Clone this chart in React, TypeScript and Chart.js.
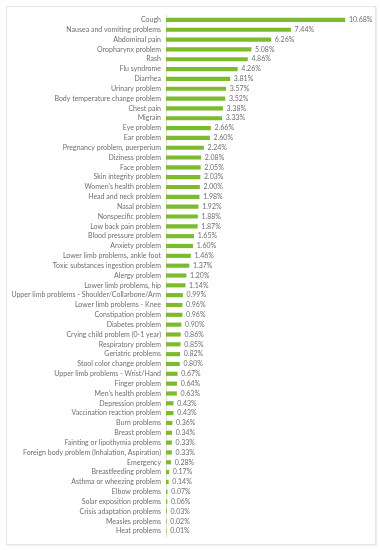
import React, { useEffect, useRef } from "react";
import { Chart, registerables } from "chart.js";

Chart.register(...registerables);

const categories: string[] = [
  "Cough",
  "Nausea and vomiting problems",
  "Abdominal pain",
  "Oropharynx problem",
  "Rash",
  "Flu syndrome",
  "Diarrhea",
  "Urinary problem",
  "Body temperature change problem",
  "Chest pain",
  "Migrain",
  "Eye problem",
  "Ear problem",
  "Pregnancy problem, puerperium",
  "Diziness problem",
  "Face problem",
  "Skin integrity problem",
  "Women's health problem",
  "Head and neck problem",
  "Nasal problem",
  "Nonspecific problem",
  "Low back pain problem",
  "Blood pressure problem",
  "Anxiety problem",
  "Lower limb problems, ankle foot",
  "Toxic substances ingestion problem",
  "Alergy problem",
  "Lower limb problems, hip",
  "Upper limb problems - Shoulder/Collarbone/Arm",
  "Lower limb problems - Knee",
  "Constipation problem",
  "Diabetes problem",
  "Crying child problem (0-1 year)",
  "Respiratory problem",
  "Geriatric problems",
  "Stool color change problem",
  "Upper limb problems - Wrist/Hand",
  "Finger problem",
  "Men's health problem",
  "Depression problem",
  "Vaccination reaction problem",
  "Burn problems",
  "Breast problem",
  "Fainting or lipothymia problems",
  "Foreign body problem (Inhalation, Aspiration)",
  "Emergency",
  "Breastfeeding problem",
  "Asthma or wheezing problem",
  "Elbow problems",
  "Solar exposition problems",
  "Crisis adaptation problems",
  "Measles problems",
  "Heat problems",
];

const percentages: number[] = [
  10.68, 7.44, 6.26, 5.08, 4.86, 4.26, 3.81, 3.57, 3.52, 3.38, 3.33, 2.66, 2.6,
  2.24, 2.08, 2.05, 2.03, 2.0, 1.98, 1.92, 1.88, 1.87, 1.65, 1.6, 1.46, 1.37,
  1.2, 1.14, 0.99, 0.96, 0.96, 0.9, 0.86, 0.85, 0.82, 0.8, 0.67, 0.64, 0.63,
  0.43, 0.43, 0.36, 0.34, 0.33, 0.33, 0.28, 0.17, 0.14, 0.07, 0.06, 0.03, 0.02,
  0.01,
];

const FONT = "Lato, 'DejaVu Sans', sans-serif";
const TEXT_COLOR = "#6e6e6e";
const BAR_COLOR = "#7dbb2e";

const valueLabels = {
  id: "valueLabels",
  afterDatasetsDraw(chart: any) {
    const { ctx } = chart;
    const meta = chart.getDatasetMeta(0);
    ctx.save();
    ctx.font = `7px ${FONT}`;
    ctx.fillStyle = TEXT_COLOR;
    ctx.textAlign = "left";
    ctx.textBaseline = "middle";
    meta.data.forEach((bar: any, i: number) => {
      const v = percentages[i];
      ctx.fillText(v.toFixed(2) + "%", bar.x + 4, bar.y);
    });
    ctx.restore();
  },
};

export default function App() {
  const canvasRef = useRef<HTMLCanvasElement | null>(null);

  useEffect(() => {
    if (!canvasRef.current) return;
    const chart = new Chart(canvasRef.current, {
      type: "bar",
      data: {
        labels: categories,
        datasets: [
          {
            data: percentages,
            backgroundColor: BAR_COLOR,
            borderWidth: 0,
            barThickness: 3.5,
          },
        ],
      },
      options: {
        indexAxis: "y",
        animation: false,
        responsive: false,
        maintainAspectRatio: false,
        layout: { padding: { left: 0, right: 13, top: 15, bottom: 14 } },
        plugins: {
          legend: { display: false },
          tooltip: { enabled: false },
        },
        scales: {
          x: {
            display: false,
            min: 0,
            max: 12,
          },
          y: {
            afterFit(scale: any) {
              scale.width = 166;
            },
            grid: { display: false, drawTicks: false },
            border: { display: true, color: "#dddddd", width: 1 },
            ticks: {
              autoSkip: false,
              padding: 5,
              color: TEXT_COLOR,
              font: { family: FONT, size: 7 },
            },
          },
        },
      },
      plugins: [valueLabels],
    });
    return () => chart.destroy();
  }, []);

  return (
    <div
      style={{
        position: "absolute",
        left: 0,
        top: 0,
        width: 380,
        height: 550,
        background: "#ffffff",
      }}
    >
      <div
        style={{
          position: "absolute",
          left: 6,
          top: 6,
          width: 368,
          height: 537,
          border: "1px solid #e6e6e6",
          boxShadow: "1px 1px 1px #efefef",
        }}
      />
      <canvas
        ref={canvasRef}
        width={380}
        height={550}
        style={{ position: "absolute", left: 0, top: 0, width: 380, height: 550 }}
      />
    </div>
  );
}
